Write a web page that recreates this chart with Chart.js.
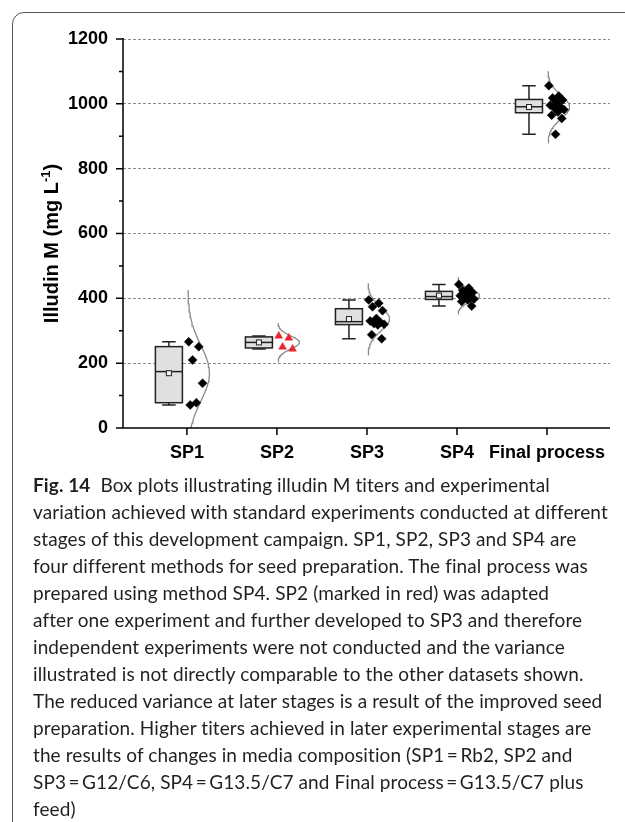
<!DOCTYPE html>
<html>
<head>
<meta charset="utf-8">
<script src="https://cdn.jsdelivr.net/npm/chart.js@4.4.1/dist/chart.umd.min.js"></script>
<style>
  html, body { margin: 0; padding: 0; background: #fff; }
  body { width: 625px; height: 822px; position: relative; overflow: hidden; }
  #frame { position: absolute; left: 12px; top: 12px; width: 700px; height: 900px;
           border: 1.5px solid #555; border-radius: 12px; box-sizing: border-box; }
  #plot { position: absolute; left: 0; top: 0; width: 625px; height: 475px; }
  #caption { position: absolute; left: 33px; top: 471px; font-family: Lato, "Open Sans", sans-serif;
             font-size: 19px; letter-spacing: 0.1px; line-height: 27px; color: #231f20; white-space: nowrap; }
  #caption b { font-weight: 700; }
</style>
</head>
<body>
<div id="frame"></div>
<div id="plot"><canvas id="chart" width="625" height="475"></canvas></div>
<div id="caption">
  <div><b>Fig. 14</b>&nbsp; Box plots illustrating illudin M titers and experimental</div>
  <div>variation achieved with standard experiments conducted at different</div>
  <div>stages of this development campaign. SP1, SP2, SP3 and SP4 are</div>
  <div>four different methods for seed preparation. The final process was</div>
  <div>prepared using method SP4. SP2 (marked in red) was adapted</div>
  <div>after one experiment and further developed to SP3 and therefore</div>
  <div>independent experiments were not conducted and the variance</div>
  <div>illustrated is not directly comparable to the other datasets shown.</div>
  <div>The reduced variance at later stages is a result of the improved seed</div>
  <div>preparation. Higher titers achieved in later experimental stages are</div>
  <div>the results of changes in media composition (SP1&thinsp;=&thinsp;Rb2, SP2 and</div>
  <div>SP3&thinsp;=&thinsp;G12/C6, SP4&thinsp;=&thinsp;G13.5/C7 and Final process&thinsp;=&thinsp;G13.5/C7 plus</div>
  <div>feed)</div>
</div>
<script>
// titers in mg/L, one array per seed preparation method
const groups = ['SP1', 'SP2', 'SP3', 'SP4', 'Final process'];
const sp1 = [266, 251, 210, 138, 78, 71];
const sp2 = [284, 278, 250, 244];
const sp3 = [395, 385, 374, 362, 338, 330, 326, 322, 320, 318, 288, 275];
const sp4 = [443, 432, 425, 418, 414, 408, 403, 400, 398, 395, 390, 376];
const finalProcess = [1056, 1024, 1018, 1012, 1004, 996, 991, 988, 982, 975, 965, 955, 906];
const yTicks = [0, 200, 400, 600, 800, 1000, 1200];

const series = [sp1, sp2, sp3, sp4, finalProcess];
const tickFont = { family: '"Liberation Sans", Arial, sans-serif', size: 18, weight: 'bold' };

// percentile as in Origin: position n*p + 0.5
function quantile(sorted, p) {
  const n = sorted.length;
  let pos = Math.min(Math.max(n * p + 0.5, 1), n);
  const lo = Math.floor(pos), f = pos - lo;
  if (lo >= n) return sorted[n - 1];
  return sorted[lo - 1] + f * (sorted[lo] - sorted[lo - 1]);
}

function describe(values) {
  const s = values.slice().sort((a, b) => a - b);
  const mean = s.reduce((a, b) => a + b, 0) / s.length;
  const sd = Math.sqrt(s.reduce((a, b) => a + (b - mean) ** 2, 0) / (s.length - 1));
  return { min: s[0], max: s[s.length - 1], q1: quantile(s, 0.25), med: quantile(s, 0.5),
           q3: quantile(s, 0.75), mean, sd };
}
const stats = series.map(describe);

// deterministic spread of the raw points to the right of each tick
const jitter = j => 0.02 + 0.18 * ((j * 0.618034) % 1);

const datasets = [];
series.forEach((vals, i) => {
  const st = stats[i];
  // normal curve from mean and sd, drawn sideways next to the points
  const curve = [];
  for (let k = -30; k <= 30; k++) {
    const z = k / 10;
    curve.push({ x: i + 1 + 0.01 + 0.24 * Math.exp(-z * z / 2), y: st.mean + z * st.sd });
  }
  datasets.push({ data: curve, showLine: true, borderColor: '#8a8a8a', borderWidth: 1.3,
                  pointRadius: 0, tension: 0, order: 2 });
  datasets.push({
    data: vals.map((v, j) => ({ x: i + 1 + jitter(j), y: v })),
    pointStyle: i === 1 ? 'triangle' : 'rectRot',
    pointRadius: 4.5,
    backgroundColor: i === 1 ? '#e8262d' : '#000',
    borderColor: i === 1 ? '#e8262d' : '#000',
    borderWidth: 0.5, order: 1
  });
});

const boxPlugin = {
  id: 'boxes',
  beforeDatasetsDraw(chart) {
    const { ctx, scales: { x, y } } = chart;
    ctx.save();
    ctx.strokeStyle = '#222';
    ctx.lineWidth = 1.5;
    stats.forEach((s, i) => {
      const cx = x.getPixelForValue(i + 1 - 0.2);
      const hw = x.getPixelForValue(i + 1 - 0.05) - cx;
      const cap = hw / 2;
      const yq1 = y.getPixelForValue(s.q1), yq3 = y.getPixelForValue(s.q3);
      // whiskers
      ctx.beginPath();
      ctx.moveTo(cx, y.getPixelForValue(s.max)); ctx.lineTo(cx, yq3);
      ctx.moveTo(cx, yq1); ctx.lineTo(cx, y.getPixelForValue(s.min));
      ctx.moveTo(cx - cap, y.getPixelForValue(s.max)); ctx.lineTo(cx + cap, y.getPixelForValue(s.max));
      ctx.moveTo(cx - cap, y.getPixelForValue(s.min)); ctx.lineTo(cx + cap, y.getPixelForValue(s.min));
      ctx.stroke();
      // box
      ctx.fillStyle = '#e0e0e0';
      ctx.fillRect(cx - hw, yq3, hw * 2, yq1 - yq3);
      ctx.strokeRect(cx - hw, yq3, hw * 2, yq1 - yq3);
      // median
      const ym = y.getPixelForValue(s.med);
      ctx.beginPath(); ctx.moveTo(cx - hw, ym); ctx.lineTo(cx + hw, ym); ctx.stroke();
      // mean marker
      const ya = y.getPixelForValue(s.mean);
      ctx.lineWidth = 1;
      ctx.fillStyle = '#f4f4f4';
      ctx.fillRect(cx - 2.5, ya - 2.5, 5, 5);
      ctx.strokeRect(cx - 2.5, ya - 2.5, 5, 5);
      ctx.lineWidth = 1.5;
    });
    ctx.restore();
  }
};

const axesPlugin = {
  id: 'axes',
  afterDraw(chart) {
    const { ctx, chartArea: a, scales: { x, y } } = chart;
    ctx.save();
    ctx.strokeStyle = '#000';
    ctx.lineWidth = 1.5;
    ctx.beginPath();
    ctx.moveTo(a.left, a.top - 1); ctx.lineTo(a.left, a.bottom);
    ctx.lineTo(a.right, a.bottom);
    // major and minor y ticks
    for (let v = 0; v <= 1200; v += 100) {
      const py = y.getPixelForValue(v);
      ctx.moveTo(a.left, py); ctx.lineTo(a.left - (v % 200 === 0 ? 7 : 4), py);
    }
    // x ticks
    groups.forEach((g, i) => {
      const px = x.getPixelForValue(i + 1);
      ctx.moveTo(px, a.bottom); ctx.lineTo(px, a.bottom + 7);
    });
    ctx.stroke();

    // y axis title with superscript
    const main = 'Illudin M (mg L', sup = '-1', tail = ')';
    const bigF = 'bold 20px "Liberation Sans", Arial, sans-serif';
    const smallF = 'bold 13px "Liberation Sans", Arial, sans-serif';
    ctx.font = bigF; const w1 = ctx.measureText(main).width, w3 = ctx.measureText(tail).width;
    ctx.font = smallF; const w2 = ctx.measureText(sup).width;
    const total = w1 + w2 + w3;
    ctx.translate(58, (a.top + a.bottom) / 2 + 10);
    ctx.rotate(-Math.PI / 2);
    ctx.fillStyle = '#000';
    ctx.textBaseline = 'alphabetic';
    ctx.textAlign = 'left';
    let tx = -total / 2;
    ctx.font = bigF; ctx.fillText(main, tx, 0); tx += w1;
    ctx.font = smallF; ctx.fillText(sup, tx, -8); tx += w2;
    ctx.font = bigF; ctx.fillText(tail, tx, 0);
    ctx.restore();
  }
};

new Chart(document.getElementById('chart'), {
  type: 'scatter',
  data: { datasets },
  plugins: [boxPlugin, axesPlugin],
  options: {
    responsive: false,
    animation: false,
    devicePixelRatio: 1,
    layout: { padding: { left: 0, top: 39, right: 15, bottom: 0 } },
    plugins: { legend: { display: false }, tooltip: { enabled: false } },
    scales: {
      x: {
        type: 'linear', min: 0.29, max: 5.7,
        afterBuildTicks: s => { s.ticks = groups.map((g, i) => ({ value: i + 1 })); },
        afterFit: s => { s.height = 47; },
        grid: { display: false, drawTicks: false },
        border: { display: false },
        ticks: { callback: v => groups[v - 1], font: tickFont, color: '#000', padding: 14,
                 autoSkip: false, maxRotation: 0 }
      },
      y: {
        min: 0, max: 1200,
        afterBuildTicks: s => { s.ticks = yTicks.map(v => ({ value: v })); },
        afterFit: s => { s.width = 123; },
        grid: { drawTicks: false, lineWidth: 1,
                color: c => (c.tick && c.tick.value === 0) ? 'rgba(0,0,0,0)' : '#8c8c8c' },
        border: { display: false, dash: [3, 2] },
        ticks: { callback: v => String(v), font: tickFont, color: '#000', padding: 15 }
      }
    }
  }
});
</script>
</body>
</html>
